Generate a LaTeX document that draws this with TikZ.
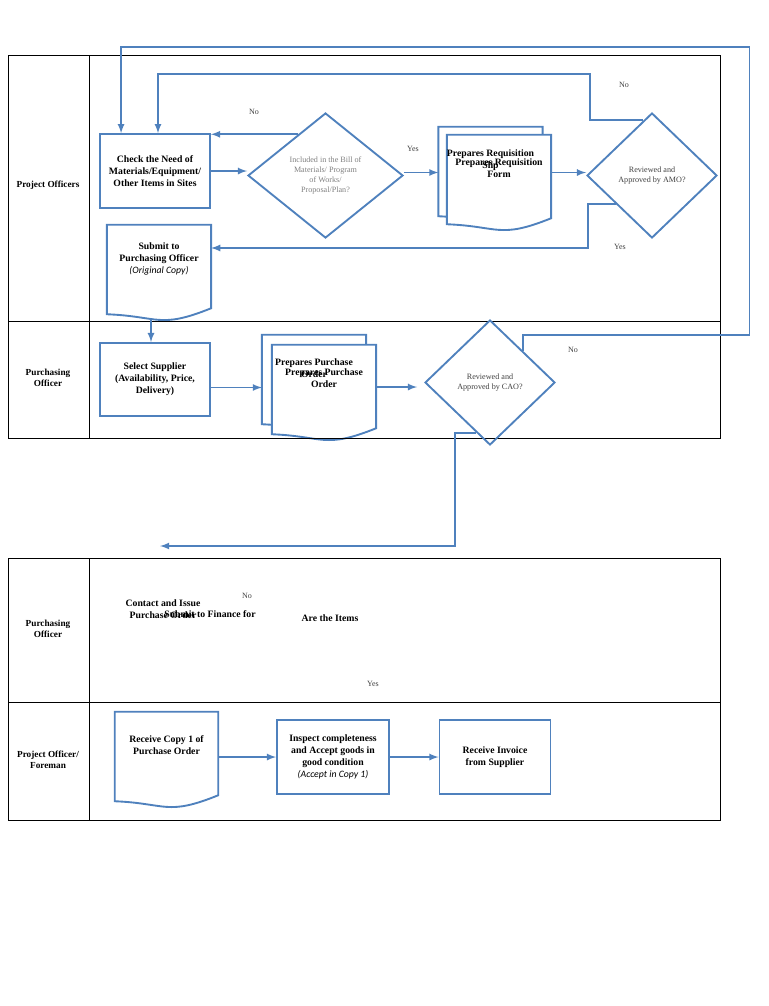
\documentclass[tikz,border=0pt]{standalone}
\usepackage{fontspec}
\setmainfont{Liberation Serif}
\setsansfont{Carlito}
\usepackage{tikz}
\usetikzlibrary{positioning,arrows,shapes.geometric,calc}
\definecolor{flowblue}{RGB}{79,129,189}
\definecolor{labelgray}{RGB}{64,64,64}
\pgfdeclarelayer{background}
\pgfsetlayers{background,main}
\newcommand{\boxfont}{\fontsize{7.8}{9.6}\selectfont\bfseries}
\newcommand{\smallfont}{\fontsize{6.5}{8.2}\selectfont}
\newcommand{\docshape}[1]{%
  \begin{pgfonlayer}{background}
    \draw[link,fill=white] (#1.north west) -- (#1.north east)
      -- ($(#1.south east)+(0,16)$)
      .. controls ($(#1.south)+(0,37)$) and ($(#1.south)+(0,24)$)
      .. ($(#1.south west)+(0,22)$) -- cycle;
  \end{pgfonlayer}}

\begin{document}
\begin{tikzpicture}[x=0.8pt,y=-0.8pt]
 \tikzset{arrow/.style={draw=flowblue,line width=1.5pt,-latex},
   link/.style={draw=flowblue,line width=1.5pt},
   proc/.style={draw=flowblue,line width=1.5pt,minimum width=88pt,minimum height=59pt,inner sep=1pt,align=center,font=\boxfont},
   doc/.style={minimum width=83pt,minimum height=53.6pt,inner sep=1pt,align=center,font=\boxfont},
   decision/.style={diamond,draw=flowblue,line width=1.5pt,align=center,inner sep=0pt,font=\smallfont},
   lane/.style={align=center,font=\fontsize{7.4}{8.8}\selectfont\bfseries},
   answer/.style={font=\fontsize{6.4}{7}\selectfont,text=labelgray},
   grid/.style={draw=black,line width=0.8pt}}
 \useasboundingbox (0,0) rectangle (768,1006);

 \draw[grid] (8,55) rectangle (720,438);
 \draw[grid] (89,55) -- (89,438);
 \draw[grid] (8,321) -- (720,321);
 \draw[grid] (8,558) rectangle (720,820);
 \draw[grid] (89,558) -- (89,820);
 \draw[grid] (8,702) -- (720,702);

 \node[lane] (L1) at (48,185) {Project Officers};
 \node[lane] (L2) at (48,378) {Purchasing\\Officer};
 \node[lane] (L3) at (48,629) {Purchasing\\Officer};
 \node[lane] (L4) at (48,760) {Project Officer/\\Foreman};

 \node[proc] (C1) at (155,171) {Check the Need of\\Materials/Equipment/\\Other Items in Sites};
 \node[decision,minimum width=124pt,minimum height=100pt,text=gray] (D1) at (325.5,175.5)
   {Included in the Bill of\\Materials/ Program\\of Works/\\Proposal/Plan?};
 \node[doc] (R1) at (490.5,160.5) {Prepares Requisition\\Slip};
 \node[doc] (R2) at (499,168.5) {Prepares Requisition\\Form};
 \docshape{R1}
 \docshape{R2}
 \node[decision,minimum width=104pt,minimum height=100pt,text=labelgray] (A1) at (652,175.5)
   {Reviewed and\\Approved by AMO?};
 \node[doc] (S1) at (159,258.5) {Submit to\\Purchasing Officer\\{\normalfont\sffamily\itshape (Original Copy)}};
 \docshape{S1}

 \node[proc,minimum height=58.4pt] (P1) at (155,379.5) {Select Supplier\\(Availability, Price,\\Delivery)};
 \node[doc] (O1) at (314,368.5) {Prepares Purchase\\Order};
 \node[doc] (O2) at (324,378.5) {Prepares Purchase\\Order};
 \docshape{O1}
 \docshape{O2}
 \node[decision,minimum width=104pt,minimum height=100pt,text=labelgray] (A2) at (490,382.5)
   {Reviewed and\\Approved by CAO?};

 \draw[arrow] (C1.east) -- (C1.east -| D1.west);
 \coordinate (d1n) at ($(D1.north)!0.35!(D1.west)$);
 \draw[arrow] (d1n) -- (d1n -| C1.east);
 \draw[arrow] ([yshift=2.4pt]D1.east) -- ([yshift=2.4pt]D1.east -| R1.west);
 \draw[arrow] ([yshift=2.4pt]R2.east |- A1.west) -- ([yshift=2.4pt]A1.west);
 \draw[arrow] ($(A1.north)!0.13!(A1.west)$) -- ++(-53,0) -- ++(0,-46) -| ([xshift=2.4pt]C1.north);
 \coordinate (a1y) at ($(A1.west)!0.45!(A1.south)$);
 \draw[arrow] (a1y) -- ++(-28,0) |- ([yshift=8.4pt]S1.east);
 \coordinate (Sb) at ($(S1.south)+(-8,26)$);
 \draw[arrow] (Sb) -- (Sb |- P1.north);
 \draw[arrow] ([yshift=-6.4pt]P1.east) -- ([yshift=-6.4pt]P1.east -| O1.west);
 \draw[arrow] ([yshift=-6.8pt]O2.east) -- ([yshift=-6.8pt,xshift=-5.6pt]O2.east -| A2.west);
 \draw[arrow] (A2.north east) -- ++(0,-16) -- ++(226.5,0) -- ++(0,-288) -| ([xshift=17.6pt]C1.north west);
 \coordinate (a2y) at ($(A2.west)!0.79!(A2.south)$);
 \coordinate (T1) at (160,546);
 \draw[arrow] (a2y) -- ++(-21,0) |- (T1);

 \node[answer] (n1) at (254,112) {No};
 \node[answer] (y1) at (413,149) {Yes};
 \node[answer] (n2) at (624,85) {No};
 \node[answer] (y2) at (620,247) {Yes};
 \node[answer] (n3) at (573,350) {No};

 \node[align=center,font=\boxfont] (K1) at (163,609) {Contact and Issue\\Purchase Order};
 \node[font=\boxfont] (K2) at (210,614) {Submit to Finance for};
 \node[font=\boxfont] (K3) at (330,618) {Are the Items};
 \node[answer] (n4) at (247,596) {No};
 \node[answer] (y3) at (373,684) {Yes};

 \node[doc,minimum width=82.4pt] (V1) at (166.5,745.5) {Receive Copy 1 of\\Purchase Order};
 \docshape{V1}
 \node[proc,minimum width=89.6pt] (I1) at (333,757) {Inspect completeness\\and Accept goods in\\good condition\\{\normalfont\sffamily\itshape (Accept in Copy 1)}};
 \node[proc,minimum width=88.8pt] (I2) at (495,757) {Receive Invoice\\from Supplier};
 \draw[arrow] (V1.east |- I1.west) -- (I1.west);
 \draw[arrow] (I1.east) -- (I2.west);
\end{tikzpicture}
\end{document}
